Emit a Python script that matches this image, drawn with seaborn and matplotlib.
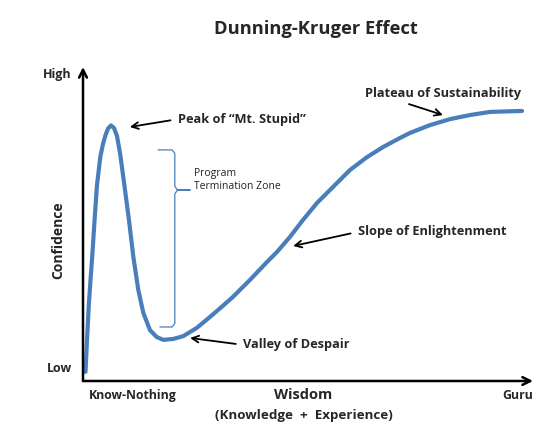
import matplotlib
matplotlib.use("Agg")
import matplotlib.pyplot as plt
import seaborn as sns
import pandas as pd

# ---- data (arbitrary 0-100 units) ----
wisdom = [0.56, 0.89, 1.29, 1.67, 2.07, 2.60, 3.11, 3.84, 4.44, 5.00, 5.56, 6.22,
          6.89, 7.56, 8.29, 9.04, 10.16, 11.22, 12.29, 13.40, 14.89, 16.38,
          17.84, 20.07, 22.29, 25.27, 28.22, 30.89, 33.33, 37.11, 40.89, 43.11,
          46.0, 48.89, 52.0, 55.56, 59.33, 63.11, 66.67, 70.44, 72.67, 77.11,
          81.56, 86.0, 90.44, 97.56]
confidence = [2.9, 13.1, 24.2, 32.2, 40.1, 51.9, 62.4, 71.3, 75.5, 78.3, 80.4, 81.4,
              80.6, 78.0, 72.0, 64.0, 51.9, 39.2, 29.0, 21.7, 16.2, 14.0,
              13.1, 13.4, 14.3, 16.9, 20.4, 23.7, 26.8, 32.2, 37.9, 41.1,
              45.9, 51.3, 56.7, 61.8, 67.2, 71.3, 74.5, 77.4, 79.0, 81.5,
              83.4, 84.7, 85.7, 86.0]

x_tick_pos = [11.1, 96.7]
x_tick_labels = ["Know-Nothing", "Guru"]
y_tick_pos = [4.5, 98.1]
y_tick_labels = ["Low", "High"]

annot_labels = ["Peak of \u201cMt. Stupid\u201d", "Valley of Despair",
                "Slope of Enlightenment", "Plateau of Sustainability"]
annot_tips = [(10.4, 80.9), (23.8, 13.7), (46.7, 43.0), (80.0, 84.7)]
annot_text_pos = [(21.1, 83.4), (35.6, 11.5), (61.1, 47.5), (62.7, 91.7)]
annot_relpos = [(0.0, 0.5), (0.0, 0.5), (0.0, 0.5), (0.19, 0.0)]

brace_x = [16.7, 19.8, 20.4, 20.4, 21.0, 23.8, 21.0, 20.4, 20.4, 19.8, 17.1]
brace_y = [73.6, 73.6, 72.5, 62.0, 60.8, 60.8, 60.8, 59.6, 18.3, 17.2, 17.2]

BLUE = "#4A7EBB"

sns.set_theme(style="white")
plt.rcParams["font.family"] = ["Open Sans", "DejaVu Sans"]

fig = plt.figure(figsize=(5.59, 4.45), dpi=100)
ax = fig.add_axes([83 / 559, 64 / 445, 450 / 559, 314 / 445])

df = pd.DataFrame({"Wisdom": wisdom, "Confidence": confidence})
sns.lineplot(data=df, x="Wisdom", y="Confidence", ax=ax, color=BLUE,
             linewidth=3, sort=False, estimator=None,
             solid_joinstyle="round", solid_capstyle="round")

ax.set_xlim(0, 100)
ax.set_ylim(0, 100)
for s in ax.spines.values():
    s.set_visible(False)

# axis arrows
ax.annotate("", xy=(1.0, 0), xytext=(0, 0), xycoords="axes fraction",
            arrowprops=dict(arrowstyle="->", lw=1.8, color="black",
                            mutation_scale=14, shrinkA=0, shrinkB=0))
ax.annotate("", xy=(0, 1.0), xytext=(0, 0), xycoords="axes fraction",
            arrowprops=dict(arrowstyle="->", lw=1.8, color="black",
                            mutation_scale=14, shrinkA=0, shrinkB=0))

ax.set_xticks(x_tick_pos)
ax.set_xticklabels(x_tick_labels, fontsize=8.8, fontweight="bold")
ax.set_yticks(y_tick_pos)
ax.set_yticklabels(y_tick_labels, fontsize=9, fontweight="bold")
ax.tick_params(axis="x", length=0, pad=6)
ax.tick_params(axis="y", length=0, pad=8)

ax.set_xlabel("Wisdom", fontsize=10.5, fontweight="bold")
ax.xaxis.set_label_coords(0.49, -0.022)
ax.text(0.49, -0.11, "(Knowledge  +  Experience)", transform=ax.transAxes,
        ha="center", va="center", fontsize=9.6, fontweight="bold")
ax.set_ylabel("Confidence", fontsize=10, fontweight="bold")
ax.yaxis.set_label_coords(-0.04, 0.449)

fig.text(316 / 559, 1 - 29 / 445, "Dunning-Kruger Effect", ha="center",
         va="center", fontsize=13.2, fontweight="bold")

for lab, tip, tpos, rp in zip(annot_labels, annot_tips, annot_text_pos, annot_relpos):
    ax.annotate(lab, xy=tip, xytext=tpos, ha="left", va="center",
                fontsize=9.2, fontweight="bold",
                arrowprops=dict(arrowstyle="->", lw=1.3, color="black",
                                mutation_scale=12, relpos=rp,
                                shrinkA=3, shrinkB=0))

ax.plot(brace_x, brace_y, color=BLUE, lw=0.9)
ax.text(24.7, 64.0, "Program\nTermination Zone", ha="left", va="center",
        fontsize=7.5, linespacing=1.25, color="#222222")

fig.savefig("out.png", dpi=100)
